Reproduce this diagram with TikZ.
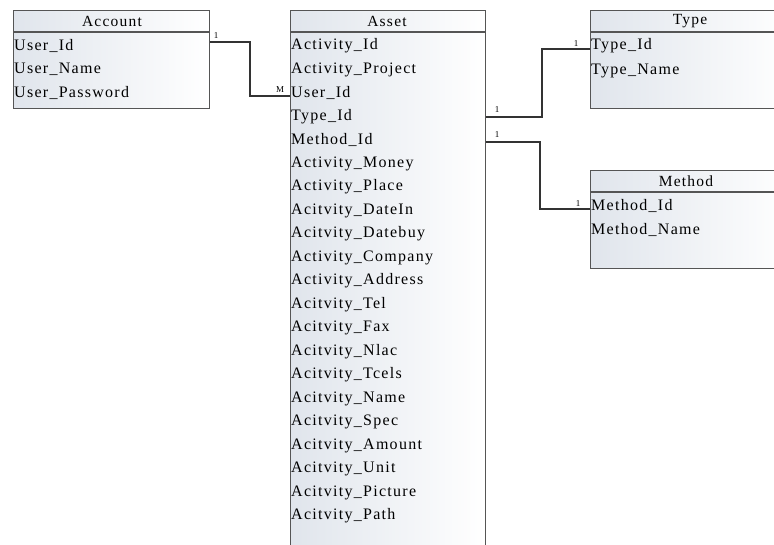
\documentclass[tikz,border=0pt]{standalone}
\usepackage{fontspec}
\setmainfont{Liberation Serif}
\newfontfamily\fieldfont[LetterSpace=8]{Liberation Serif}
\definecolor{boxline}{HTML}{555555}
\definecolor{relline}{HTML}{333333}
\definecolor{boxshade}{HTML}{E0E5EC}
\begin{document}
\begin{tikzpicture}[x=1pt,y=-1pt,
  tbl/.style={draw=boxline, line width=1.3pt, left color=boxshade, right color=white, inner sep=0, anchor=north west},
  hsep/.style={draw=boxline, line width=1.3pt},
  hdr/.style={font=\fieldfont\fontsize{15.5}{18}\selectfont, inner sep=0},
  fld/.style={font=\fieldfont\fontsize{16}{18}\selectfont, anchor=west, inner sep=0},
  card/.style={font=\fontsize{9}{10}\selectfont, inner sep=0},
  rel/.style={draw=relline, line width=1.2pt}]
\useasboundingbox (0,0) rectangle (774,545);
\clip (0,0) rectangle (774,545);
% tables
\node[tbl, minimum width=196pt, minimum height=98pt] (account) at (13,10) {};
\node[tbl, minimum width=195pt, minimum height=560pt] (asset) at (290,10) {};
\node[tbl, minimum width=200pt, minimum height=98pt] (type) at (590,10) {};
\node[tbl, minimum width=200pt, minimum height=98pt] (method) at (590,170) {};
% header separators
\foreach \t in {account,asset,type,method}
  \draw[hsep] ([yshift=-22pt]\t.north west) -- ([yshift=-22pt]\t.north east);
% headers
\node[hdr] (accountT) at (112,21) {Account};
\node[hdr] (assetT) at (387,21) {Asset};
\node[hdr] (typeT) at (690,21) {Type};
\node[hdr] (methodT) at (686,181) {Method};
% fields
\foreach \t [count=\i] in {User\_Id,User\_Name,User\_Password}
  \node[fld] (acc-\i) at (14,{46+23.5*(\i-1)}) {\t};
\foreach \t [count=\i] in {Activity\_Id,Activity\_Project,User\_Id,Type\_Id,Method\_Id,Activity\_Money,Activity\_Place,Acitvity\_DateIn,Acitvity\_Datebuy,Activity\_Company,Activity\_Address,Acitvity\_Tel,Acitvity\_Fax,Acitvity\_Nlac,Acitvity\_Tcels,Acitvity\_Name,Acitvity\_Spec,Acitvity\_Amount,Acitvity\_Unit,Acitvity\_Picture,Acitvity\_Path}
  \node[fld] (as-\i) at (291,{46+23.5*(\i-1)}) {\t};
\foreach \t [count=\i] in {Type\_Id,Type\_Name}
  \node[fld] (ty-\i) at (591,{46+24.5*(\i-1)}) {\t};
\foreach \t [count=\i] in {Method\_Id,Method\_Name}
  \node[fld] (me-\i) at (591,{206+24*(\i-1)}) {\t};
% relations
\draw[rel] (account.east |- 0,42) -- (250,42) -- (250,96) -- (asset.west |- 0,96);
\draw[rel] (asset.east |- 0,117) -- (542,117) -- (542,49) -- (type.west |- 0,49);
\draw[rel] (asset.east |- 0,142) -- (540,142) -- (540,209) -- (method.west |- 0,209);
% cardinalities
\node[card] (c1) at (216,36) {1};
\node[card] (c2) at (280,90) {M};
\node[card] (c3) at (497,110) {1};
\node[card] (c4) at (576,44) {1};
\node[card] (c5) at (497,135) {1};
\node[card] (c6) at (578,204) {1};
\end{tikzpicture}
\end{document}
